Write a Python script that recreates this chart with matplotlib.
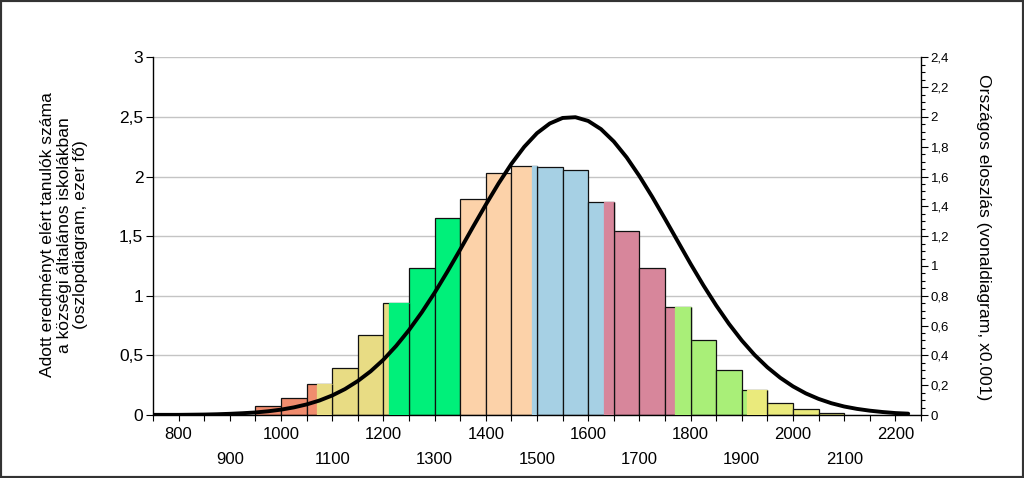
import numpy as np
import matplotlib
matplotlib.use("Agg")
import matplotlib.pyplot as plt
from matplotlib.ticker import MultipleLocator, FuncFormatter
from matplotlib.patches import Rectangle

plt.rcParams['font.family'] = ['Liberation Sans', 'DejaVu Sans']

# histogram bins (left edge, width 50) and counts in thousands
bin_left = [950, 1000, 1050, 1100, 1150, 1200, 1250, 1300, 1350, 1400, 1450,
            1500, 1550, 1600, 1650, 1700, 1750, 1800, 1850, 1900, 1950, 2000, 2050]
bin_count = [0.073, 0.14, 0.258, 0.39, 0.674, 0.937, 1.233, 1.65, 1.81, 2.028, 2.086,
             2.078, 2.055, 1.79, 1.541, 1.236, 0.904, 0.627, 0.378, 0.21, 0.103, 0.048, 0.014]
bin_width = 50

# level boundaries and level colours
level_bounds = [1070, 1210, 1350, 1490, 1630, 1770, 1910]
level_colors = ["#F08C6E", "#E8DC84", "#00F07A", "#FCD2A9",
                "#A6D0E4", "#D7869B", "#A9EF78", "#EAEA7C"]

# national distribution (right axis, x0.001), read every 25 points
curve_x = [750, 775, 800, 825, 850, 875, 900, 925, 950, 975, 1000, 1025, 1050, 1075,
           1100, 1125, 1150, 1175, 1200, 1225, 1250, 1275, 1300, 1325, 1350, 1375,
           1400, 1425, 1450, 1475, 1500, 1525, 1550, 1575, 1600, 1625, 1650, 1675,
           1700, 1725, 1750, 1775, 1800, 1825, 1850, 1875, 1900, 1925, 1950, 1975,
           2000, 2025, 2050, 2075, 2100, 2125, 2150, 2175, 2200, 2225]
curve_y = [0.001, 0.001, 0.001, 0.002, 0.003, 0.005, 0.008, 0.012, 0.017, 0.025,
           0.036, 0.051, 0.071, 0.097, 0.131, 0.174, 0.228, 0.293, 0.371, 0.464,
           0.570, 0.689, 0.820, 0.962, 1.110, 1.262, 1.411, 1.554, 1.685, 1.799,
           1.891, 1.956, 1.993, 1.998, 1.973, 1.918, 1.835, 1.729, 1.603, 1.464,
           1.316, 1.165, 1.014, 0.870, 0.735, 0.611, 0.500, 0.403, 0.320, 0.250,
           0.192, 0.145, 0.108, 0.079, 0.057, 0.041, 0.029, 0.020, 0.013, 0.009]

left_label = "Adott eredményt elért tanulók száma\na községi általános iskolákban\n(oszlopdiagram, ezer fő)"
right_label = "Országos eloszlás (vonaldiagram, x0.001)"


def comma(v, pos):
    return f"{v:g}".replace(".", ",")


fig = plt.figure(figsize=(10.24, 4.78), dpi=100)
ax = fig.add_axes([153/1024, 1-415/478, 768/1024, 357.7/478])

lw = 0.9
for left, h in zip(bin_left, bin_count):
    idx = sum(1 for b in level_bounds if b <= left)
    ax.bar(left, h, width=bin_width, align="edge", color=level_colors[idx],
           edgecolor="#111111", linewidth=lw, zorder=2)
    for b in level_bounds:
        if left < b < left + bin_width:
            c = level_colors[idx + 1]
            ax.bar(b, h, width=left + bin_width - b, align="edge", color=c,
                   edgecolor=c, linewidth=lw, zorder=3)
            ax.vlines(left + bin_width, 0, h, color="#111111", linewidth=lw, zorder=4)

ax.set_xlim(750, 2250)
ax.set_ylim(0, 3)
ax.yaxis.set_major_locator(MultipleLocator(0.5))
ax.yaxis.set_major_formatter(FuncFormatter(comma))
ax.grid(axis="y", color="#C4C4C4", linewidth=1)
ax.set_axisbelow(True)

xt = list(range(800, 2201, 100))
ax.set_xticks(xt)
ax.set_xticklabels([str(v) for v in xt])
ax.xaxis.set_minor_locator(MultipleLocator(50))
ax.tick_params(axis="x", which="both", length=4, width=0.8, labelsize=12, pad=4.5)
ax.tick_params(axis="y", length=5, width=0.8, labelsize=12.5, pad=2)
for i, t in enumerate(ax.xaxis.get_major_ticks()):
    if i % 2 == 1:
        t.set_pad(22.5)

ax.spines["top"].set_visible(False)
ax.spines["right"].set_visible(False)
for s in ["left", "bottom"]:
    ax.spines[s].set_linewidth(1)

ax2 = ax.twinx()
ax2.plot(curve_x, curve_y, color="black", linewidth=2.8, solid_joinstyle="round",
         solid_capstyle="round", zorder=5)
ax2.set_ylim(0, 2.4)
ax2.yaxis.set_major_locator(MultipleLocator(0.2))
ax2.yaxis.set_minor_locator(MultipleLocator(0.05))
ax2.yaxis.set_major_formatter(FuncFormatter(comma))
ax2.tick_params(axis="y", which="major", length=5, width=0.8, labelsize=9.5, pad=2)
ax2.tick_params(axis="y", which="minor", length=3, width=0.8)
for s in ["top", "left", "bottom"]:
    ax2.spines[s].set_visible(False)
ax2.spines["right"].set_linewidth(1)

fig.text(64/1024, 1-235/478, left_label, rotation=90, ha="center", va="center",
         multialignment="center", fontsize=12.6, linespacing=1.15)
fig.text(983/1024, 1-237/478, right_label, rotation=270, ha="center", va="center",
         fontsize=12.6)

fig.patches.append(Rectangle((0, 0), 1, 1, transform=fig.transFigure, fill=False,
                             edgecolor="#333333", linewidth=3))

fig.savefig("out.png", dpi=100)
